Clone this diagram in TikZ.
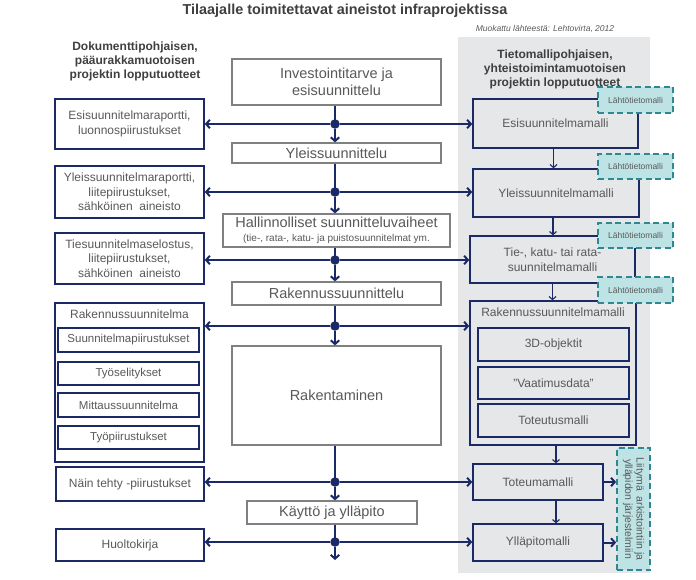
\documentclass[tikz,border=0pt]{standalone}
\usepackage{fontspec}
\setmainfont{Liberation Sans}
\usetikzlibrary{positioning, arrows.meta}

\definecolor{tummasini}{HTML}{1B2A66}
\definecolor{vaiheraja}{HTML}{808080}
\definecolor{tekstiharmaa}{HTML}{595959}
\definecolor{otsikkoharmaa}{HTML}{3F3F3F}
\definecolor{paneeli}{HTML}{E6E7E9}
\definecolor{turkoosi}{HTML}{2F8791}
\definecolor{turkoositausta}{HTML}{BEE3E5}

\tikzset{
	vaihe/.style={draw=vaiheraja, line width=1.2pt, fill=white, text=tekstiharmaa,
		inner sep=0pt, align=center, font=\fontsize{14.5}{16.5}\selectfont},
	tuote/.style={draw=tummasini, line width=1.5pt, fill=white, text=tekstiharmaa,
		inner sep=0pt, align=center, font=\fontsize{12}{14.5}\selectfont},
	malli/.style={tuote, fill=paneeli},
	lahto/.style={draw=turkoosi, dash pattern=on 6pt off 3.5pt, line width=1.7pt,
		fill=turkoositausta, text=tekstiharmaa, inner sep=0pt,
		font=\fontsize{8.5}{10}\selectfont},
	sarake/.style={align=center, text=otsikkoharmaa, font=\bfseries\fontsize{12}{14}\selectfont},
	liitos/.style={circle, fill=tummasini, inner sep=0pt, minimum size=9.5pt},
	virta/.style={draw=tummasini, line width=2pt, -{Straight Barb[length=3.8pt, width=8.5pt]}},
	runko/.style={draw=tummasini, line width=2pt},
	ohut/.style={draw=tummasini, line width=1.1pt, -{Straight Barb[length=3pt, width=7pt]}}
}

\begin{document}
\begin{tikzpicture}[x=1pt, y=-1pt]
	\useasboundingbox (0,0) rectangle (696,579);
	\fill[paneeli] (458,37) rectangle (650,573);

	% otsikot
	\node[font=\bfseries\fontsize{14.4}{16}\selectfont, text=otsikkoharmaa] (otsikko) at (345,11)
		{Tilaajalle toimitettavat aineistot infraprojektissa};
	\node[font=\itshape\fontsize{8.5}{10}\selectfont, text=tekstiharmaa] (lahde) at (545,29)
		{Muokattu lähteestä: Lehtovirta, 2012};
	\node[sarake] (vasotsikko) at (135,61) {Dokumenttipohjaisen,\\pääurakkamuotoisen\\projektin lopputuotteet};
	\node[sarake] (oikotsikko) at (555,69) {Tietomallipohjaisen,\\yhteistoimintamuotoisen\\projektin lopputuotteet};

	% vaiheet
	\node[vaihe, minimum width=209pt, minimum height=46pt] (inv) at (336.5,82) {Investointitarve ja\\esisuunnittelu};
	\node[vaihe, minimum width=209pt, minimum height=20pt] (yleis) at (336.5,153) {Yleissuunnittelu};
	\node[vaihe, minimum width=227pt, minimum height=33pt] (hall) at (336.5,230.5)
		{Hallinnolliset suunnitteluvaiheet\\[-2pt]{\fontsize{10}{11}\selectfont(tie-, rata-, katu- ja puistosuunnitelmat ym.}};
	\node[vaihe, minimum width=209pt, minimum height=23pt] (raksu) at (336.5,293.5) {Rakennussuunnittelu};
	\node[vaihe, minimum width=209pt, minimum height=99pt] (rak) at (336.5,395.5) {Rakentaminen};
	\node[vaihe, minimum width=170pt, minimum height=23pt] (kay) at (332,512.5) {Käyttö ja ylläpito};

	% dokumentit
	\node[tuote, minimum width=149pt, minimum height=50pt] (l1) at (129.5,124) {Esisuunnitelmaraportti,\\luonnospiirustukset};
	\node[tuote, minimum width=149pt, minimum height=52pt] (l2) at (129.5,192) {Yleissuunnitelmaraportti,\\liitepiirustukset,\\sähköinen\ \ aineisto};
	\node[tuote, minimum width=149pt, minimum height=51pt] (l3) at (129.5,258.5) {Tiesuunnitelmaselostus,\\liitepiirustukset,\\sähköinen\ \ aineisto};
	\node[tuote, minimum width=149pt, minimum height=159pt] (l4) at (129.5,382.5) {};
	\node[text=tekstiharmaa, font=\fontsize{12}{14}\selectfont] (l4otsikko) at (129.5,314) {Rakennussuunnitelma};
	\node[tuote, minimum width=141pt, minimum height=24pt, font=\fontsize{11.5}{13}\selectfont] (s1) at (128.5,340) {Suunnitelmapiirustukset};
	\node[tuote, minimum width=141pt, minimum height=23pt, font=\fontsize{11.5}{13}\selectfont] (s2) at (128.5,373.5) {Työselitykset};
	\node[tuote, minimum width=141pt, minimum height=24pt, font=\fontsize{11.5}{13}\selectfont] (s3) at (128.5,405) {Mittaussuunnitelma};
	\node[tuote, minimum width=141pt, minimum height=23pt, font=\fontsize{11.5}{13}\selectfont] (s4) at (128.5,437.5) {Työpiirustukset};
	\node[tuote, minimum width=148pt, minimum height=34pt] (l5) at (130,484) {Näin tehty -piirustukset};
	\node[tuote, minimum width=148pt, minimum height=32pt] (l6) at (130,545) {Huoltokirja};

	% tietomallit
	\node[malli, minimum width=165pt, minimum height=49pt] (r1) at (555.5,123.5) {Esisuunnitelmamalli};
	\node[malli, minimum width=166pt, minimum height=48pt] (r2) at (556,193) {Yleissuunnitelmamalli};
	\node[malli, minimum width=165pt, minimum height=47pt] (r3) at (552.5,259.5) {Tie-, katu- tai rata-\\suunnitelmamalli};
	\node[malli, minimum width=166pt, minimum height=144pt] (r4) at (553,373) {};
	\node[text=tekstiharmaa, font=\fontsize{12}{14}\selectfont] (r4otsikko) at (553,312) {Rakennussuunnitelmamalli};
	\node[malli, minimum width=151pt, minimum height=33pt] (m1) at (553.5,344.5) {3D-objektit};
	\node[malli, minimum width=151pt, minimum height=32pt] (m2) at (553.5,383) {"Vaatimusdata"};
	\node[malli, minimum width=151pt, minimum height=33pt] (m3) at (553.5,420.5) {Toteutusmalli};
	\node[malli, minimum width=130pt, minimum height=36pt] (r5) at (538,482) {Toteumamalli};
	\node[malli, minimum width=130pt, minimum height=37pt] (r6) at (538,542.5) {Ylläpitomalli};

	% lähtötietomallit
	\node[lahto, minimum width=75pt, minimum height=26pt] (t1) at (635.5,100) {Lähtötietomalli};
	\node[lahto, minimum width=75pt, minimum height=25pt] (t2) at (635.5,166.5) {Lähtötietomalli};
	\node[lahto, minimum width=75pt, minimum height=25pt] (t3) at (635.5,235.5) {Lähtötietomalli};
	\node[lahto, minimum width=75pt, minimum height=26pt] (t4) at (635.5,290) {Lähtötietomalli};
	\node[lahto, minimum width=33pt, minimum height=122pt] (liit) at (633.5,509) {};
	\node[rotate=-90, align=center, text=tekstiharmaa, font=\fontsize{10.5}{11.5}\selectfont] (liitteksti) at (liit.center)
		{Liitymä\ \ arkistointiin ja\\ylläpidon järjestelmiin};

	% liitoskohdat
	\node[liitos] (j1) at (335,124) {};
	\node[liitos] (j2) at (335,192) {};
	\node[liitos] (j3) at (335,260) {};
	\node[liitos] (j4) at (335,326) {};
	\node[liitos] (j5) at (335,482) {};
	\node[liitos] (j6) at (335,542) {};
	\coordinate (loppu) at (335,560);

	% runko
	\draw[runko] (inv.south -| j1) -- (j1.center);
	\draw[runko] (yleis.south -| j2) -- (j2.center);
	\draw[runko] (hall.south -| j3) -- (j3.center);
	\draw[runko] (raksu.south -| j4) -- (j4.center);
	\draw[runko] (rak.south -| j5) -- (j5.center);
	\draw[runko] (kay.south -| j6) -- (j6.center);
	\draw[virta] (j1) -- (yleis.north -| j1);
	\draw[virta] (j2) -- (hall.north -| j2);
	\draw[virta] (j3) -- (raksu.north -| j3);
	\draw[virta] (j4) -- (rak.north -| j4);
	\draw[virta] (j5) -- (kay.north -| j5);
	\draw[virta] (j6) -- (loppu);

	% sivuille
	\draw[virta] (j1) -- (l1.east |- j1);
	\draw[virta] (j2) -- (l2.east |- j2);
	\draw[virta] (j3) -- (l3.east |- j3);
	\draw[virta] (j4) -- (l4.east |- j4);
	\draw[virta] (j5) -- (l5.east |- j5);
	\draw[virta] (j6) -- (l6.east |- j6);
	\draw[virta] (j1) -- (r1.west |- j1);
	\draw[virta] (j2) -- (r2.west |- j2);
	\draw[virta] (j3) -- (r3.west |- j3);
	\draw[virta] (j4) -- (r4.west |- j4);
	\draw[virta] (j5) -- (r5.west |- j5);
	\draw[virta] (j6) -- (r6.west |- j6);

	% mallien välillä
	\draw[ohut] ([xshift=-2pt]r1.south) -- ([xshift=-2pt]r1.south |- r2.north);
	\draw[ohut] ([xshift=-3pt]r2.south) -- ([xshift=-3pt]r2.south |- r3.north);
	\draw[ohut] (r3.south) -- (r3.south |- r4.north);
	\draw[ohut] ([xshift=3pt]r4.south) -- ([xshift=3pt]r4.south |- r5.north);
	\draw[ohut] ([xshift=18pt]r5.south) -- ([xshift=18pt]r5.south |- r6.north);
	\draw[virta] (r5.east) -- (liit.west |- r5);
	\draw[virta] (r6.east) -- (liit.west |- r6);
\end{tikzpicture}
\end{document}
